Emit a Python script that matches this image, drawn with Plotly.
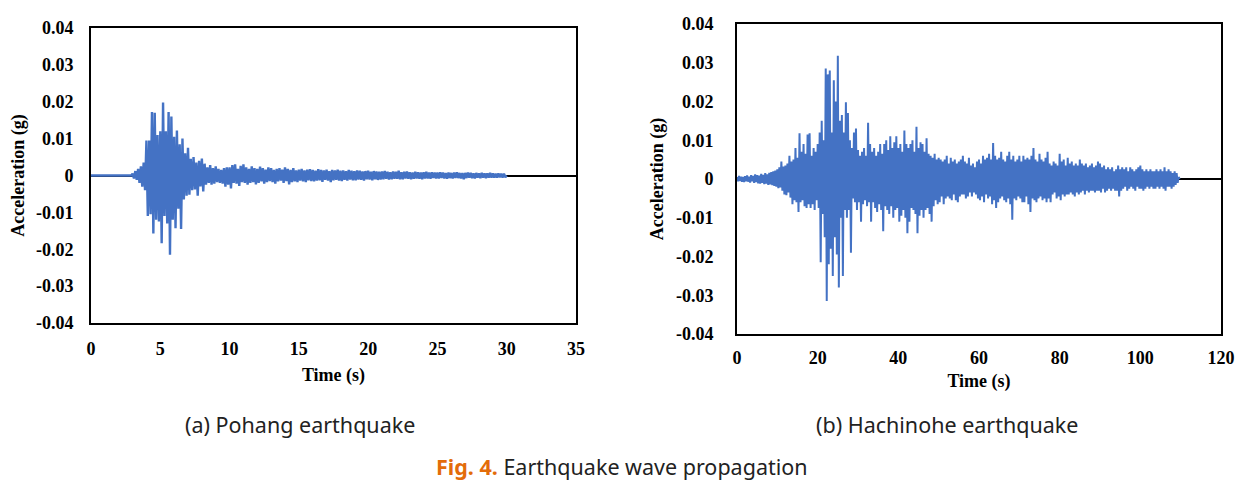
import plotly.graph_objects as go

# ---------------- data ----------------
# Pohang earthquake: acceleration in milli-g, sampled every 0.1 s from t = 0 s
pohang_dt = 0.1
pohang_mg = [
    0, 0, 0, 0, 0, 0, 0, 0, 0, 0,
    0, 0, 0, 0, 0, 0, 0, 0, 0, 0,
    0, 0, 0, 0, 0, 0, 0, 0, 0, 0,
    0.5, -0.8, 1.2, -1.2, 1.8, -2.0, 2.5, -3.0, 3.5, -4.0,
    9.5, -11.0, 9.5, -10.5, 17.2, -15.7, 17.0, -12.0, 11.0, -12.5,
    12.0, -18.4, 19.8, -11.0, 12.0, -13.0, 17.2, -21.5, 16.0, -12.0,
    10.5, -14.3, 12.2, -9.0, 8.5, -14.5, 10.0, -6.5, 6.0, -5.5,
    7.5, -5.2, 4.5, -4.0, 5.0, -3.8, 3.5, -5.5, 4.0, -3.0,
    4.6, -4.3, 3.2, -2.5, 2.2, -2.0, 2.8, -2.5, 2.0, -2.2,
    2.5, -1.8, 1.8, -2.0, 1.5, -2.2, 2.0, -3.0, 2.2, -2.5,
    2.2, -3.5, 2.8, -2.0, 3.0, -2.2, 1.8, -2.8, 2.6, -1.8,
    3.0, -2.0, 2.2, -2.5, 1.8, -2.0, 2.5, -1.8, 2.0, -2.4,
    1.8, -2.0, 2.4, -1.6, 2.0, -2.2, 1.6, -1.8, 2.2, -1.5,
    2.0, -1.8, 1.5, -2.2, 1.8, -1.6, 2.0, -1.4, 1.6, -2.0,
    2.2, -1.5, 1.8, -2.4, 1.5, -1.8, 2.0, -1.6, 1.4, -1.8,
    1.6, -1.4, 1.8, -1.6, 1.4, -1.8, 1.6, -1.3, 1.7, -1.5,
    1.5, -1.6, 1.3, -1.4, 1.7, -1.3, 1.5, -1.7, 1.4, -1.2,
    1.6, -1.4, 1.2, -1.8, 1.5, -1.3, 1.4, -1.2, 1.6, -1.4,
    1.3, -1.5, 1.4, -1.2, 1.2, -1.4, 1.5, -1.1, 1.3, -1.3,
    1.2, -1.3, 1.4, -1.1, 1.3, -1.2, 1.1, -1.4, 1.2, -1.0,
    1.3, -1.1, 1.0, -1.3, 1.2, -1.0, 1.1, -1.2, 1.0, -1.1,
    1.1, -1.0, 1.2, -0.9, 1.0, -1.1, 0.9, -1.0, 1.1, -0.9,
    1.0, -0.9, 1.3, -1.0, 0.9, -1.0, 1.0, -0.8, 1.1, -0.9,
    0.9, -1.0, 0.8, -0.9, 1.0, -0.8, 0.9, -0.9, 0.8, -1.0,
    0.9, -0.8, 1.0, -0.8, 0.8, -0.9, 0.9, -0.7, 0.8, -0.8,
    0.8, -0.8, 0.9, -0.7, 0.8, -0.8, 0.7, -0.9, 0.8, -0.7,
    0.7, -0.8, 0.8, -0.7, 0.9, -0.7, 0.7, -0.8, 0.7, -1.0,
    0.7, -0.7, 0.8, -0.6, 0.7, -0.7, 0.6, -0.8, 0.7, -0.6,
    0.6, -0.7, 0.7, -0.6, 0.6, -0.7, 0.6, -0.6, 0.7, -0.6,
    0.6, -0.6, 0.5, -0.6, 0.6, -0.5, 0.5, -0.6, 0.5, -0.5,
    0.0,
]

# Hachinohe earthquake: acceleration in milli-g, sampled every 0.25 s from t = 0 s
hachinohe_dt = 0.25
hachinohe_mg = [
    0.5, -0.6, 0.8, -0.5, 0.6, -0.7, 0.5, -0.8,
    0.7, -0.6, 0.9, -0.7, 0.6, -0.9, 1.0, -0.6,
    0.8, -1.0, 1.2, -0.8, 1.0, -1.1, 0.9, -1.2,
    1.3, -1.0, 1.1, -1.3, 1.5, -1.2, 1.2, -1.5,
    1.6, -1.4, 1.8, -1.6, 2.0, -1.8, 2.2, -2.0,
    2.5, -2.4, 3.0, -2.2, 4.5, -3.0, 3.2, -4.0,
    3.5, -4.2, 4.0, -3.5, 6.0, -4.8, 4.5, -6.5,
    5.0, -5.5, 8.0, -6.0, 5.5, -8.5, 11.8, -6.0,
    7.0, -5.5, 9.0, -7.0, 6.5, -7.5, 11.5, -6.5,
    11.8, -7.5, 6.0, -6.5, 8.0, -8.0, 7.0, -5.5,
    9.0, -7.5, 12.0, -21.5, 15.0, -9.0, 10.0, -15.0,
    28.5, -31.5, 27.0, -22.0, 28.0, -18.0, 12.0, -25.0,
    25.5, -15.0, 20.0, -19.5, 31.8, -28.0, 15.0, -10.0,
    16.5, -25.0, 12.0, -8.0, 19.8, -10.0, 17.0, -8.0,
    10.0, -19.0, 8.0, -5.0, 12.0, -6.0, 13.0, -8.0,
    7.5, -6.0, 6.0, -11.0, 7.0, -6.5, 8.0, -5.5,
    6.0, -7.0, 14.5, -6.0, 9.0, -11.0, 7.0, -6.0,
    8.0, -7.5, 6.0, -8.5, 7.0, -6.5, 9.0, -8.0,
    6.5, -13.5, 9.0, -7.0, 10.0, -8.0, 7.5, -9.0,
    11.0, -7.0, 8.0, -10.0, 9.5, -8.0, 11.0, -7.5,
    8.0, -11.0, 9.0, -9.5, 7.0, -8.0, 12.5, -10.0,
    9.0, -14.0, 8.0, -11.0, 9.0, -7.5, 10.0, -8.0,
    7.0, -9.0, 13.5, -14.0, 8.0, -9.5, 9.5, -8.0,
    9.0, -10.0, 7.0, -8.0, 10.5, -7.5, 6.5, -9.0,
    6.0, -11.0, 5.5, -7.0, 6.5, -5.5, 5.0, -6.5,
    5.5, -6.0, 5.0, -4.5, 4.5, -6.5, 5.0, -5.0,
    6.0, -4.5, 4.0, -5.0, 5.5, -5.5, 4.5, -4.0,
    5.0, -5.5, 4.0, -6.0, 4.5, -4.5, 5.0, -4.0,
    6.0, -4.0, 4.5, -5.0, 4.0, -4.5, 5.5, -3.5,
    3.5, -4.5, 4.0, -3.5, 3.0, -4.0, 4.5, -5.0,
    5.0, -5.5, 4.0, -4.5, 6.0, -6.0, 5.0, -4.0,
    5.5, -5.0, 6.5, -4.5, 5.0, -6.5, 9.3, -5.5,
    6.0, -7.5, 5.0, -6.0, 5.5, -5.0, 7.0, -4.5,
    5.0, -5.5, 4.5, -6.0, 6.0, -5.0, 7.0, -6.5,
    5.0, -10.5, 6.0, -5.0, 4.5, -5.5, 5.0, -4.5,
    6.0, -5.0, 4.5, -6.0, 6.0, -6.0, 5.0, -4.5,
    5.5, -6.5, 5.0, -8.5, 6.0, -5.0, 8.0, -5.5,
    5.0, -6.0, 4.5, -5.0, 6.5, -4.5, 5.0, -5.5,
    4.5, -5.0, 5.5, -6.0, 7.0, -5.0, 4.0, -6.0,
    3.5, -4.0, 4.5, -3.5, 4.0, -5.0, 3.5, -4.5,
    6.5, -5.5, 4.5, -4.0, 5.0, -4.5, 3.5, -4.0,
    5.5, -4.0, 4.0, -3.5, 4.5, -4.0, 3.5, -4.5,
    4.0, -3.5, 3.5, -4.0, 5.0, -3.5, 4.0, -3.0,
    3.5, -4.0, 4.0, -3.0, 3.0, -3.5, 3.5, -3.0,
    4.0, -3.0, 3.0, -3.5, 3.5, -3.0, 4.5, -3.0,
    4.0, -3.5, 3.0, -2.5, 3.5, -3.5, 2.5, -3.0,
    3.0, -2.5, 2.5, -3.0, 3.0, -2.5, 2.0, -3.0,
    2.5, -3.0, 3.5, -4.5, 2.5, -3.0, 3.0, -2.5,
    2.5, -2.0, 3.0, -3.0, 2.0, -2.5, 3.0, -2.0,
    2.5, -2.5, 2.0, -3.0, 2.5, -2.0, 3.0, -2.5,
    3.5, -2.5, 2.5, -3.0, 2.0, -2.5, 2.5, -2.0,
    2.0, -2.5, 2.5, -2.0, 2.0, -2.5, 2.0, -2.5,
    2.5, -2.0, 2.0, -2.5, 2.5, -2.0, 2.0, -2.5,
    3.0, -3.0, 2.0, -2.0, 2.5, -2.0, 2.0, -2.5,
    1.5, -2.0, 2.0, -1.5, 1.5, -1.0, 0.5, 0.0,
]

y_tick_vals = [-0.04, -0.03, -0.02, -0.01, 0, 0.01, 0.02, 0.03, 0.04]
y_tick_text = ["-0.04", "-0.03", "-0.02", "-0.01", "0", "0.01", "0.02", "0.03", "0.04"]
pohang_x_ticks = [0, 5, 10, 15, 20, 25, 30, 35]
hachinohe_x_ticks = [0, 20, 40, 60, 80, 100, 120]

x_title = "Time (s)"
y_title = "Acceleration (g)"
caption_a = "(a) Pohang earthquake"
caption_b = "(b) Hachinohe earthquake"
fig_label = "Fig. 4."
fig_title = "Earthquake wave propagation"

# ---------------- derived series ----------------
pohang_t = [i * pohang_dt for i in range(len(pohang_mg))]
pohang_g = [v / 1000 for v in pohang_mg]
hachinohe_t = [i * hachinohe_dt for i in range(len(hachinohe_mg))]
hachinohe_g = [v / 1000 for v in hachinohe_mg]

# page is 1246x492; the HTML body has an 8 px margin, so the figure is
# sized to fit inside it and layout positions are given in page pixels.
PAGE_MARGIN = 8
W, H = 1246 - PAGE_MARGIN, 492 - 2 * PAGE_MARGIN
LINE = "#4472C4"
SERIF = "Liberation Serif, Times New Roman, serif"
SANS = "Noto Sans, Open Sans, sans-serif"


def fx(page_x):
    return (page_x - PAGE_MARGIN) / W


def fy(page_y):
    return 1 - (page_y - PAGE_MARGIN) / H


fig = go.Figure()
fig.add_trace(go.Scatter(x=pohang_t, y=pohang_g, mode="lines",
                         line=dict(color=LINE, width=2.4), xaxis="x", yaxis="y",
                         showlegend=False))
fig.add_trace(go.Scatter(x=hachinohe_t, y=hachinohe_g, mode="lines",
                         line=dict(color=LINE, width=2.0), xaxis="x2", yaxis="y2",
                         showlegend=False))

tick_font = dict(family=SERIF, size=18, color="black", weight="bold")
title_font = dict(family=SERIF, size=18, color="black", weight="bold")

common_axis = dict(showgrid=False, showline=True, linecolor="black", linewidth=2,
                   mirror=True, ticks="outside", tickcolor="rgba(0,0,0,0)",
                   tickfont=tick_font, automargin=False)

fig.update_layout(
    width=W, height=H,
    margin=dict(l=0, r=0, t=0, b=0),
    paper_bgcolor="white", plot_bgcolor="white",
    xaxis=dict(domain=[fx(91), fx(576)], range=[0, 35], tickvals=pohang_x_ticks,
               ticklen=8, zeroline=False,
               title=dict(text=x_title, font=title_font, standoff=11),
               anchor="y", **common_axis),
    yaxis=dict(domain=[fy(323), fy(28)], range=[-0.04, 0.04], tickvals=y_tick_vals,
               ticktext=y_tick_text, ticklen=12, zeroline=True,
               zerolinecolor="black", zerolinewidth=2,
               title=dict(text=y_title, font=title_font, standoff=8),
               anchor="x", **common_axis),
    xaxis2=dict(domain=[fx(737), fx(1221)], range=[0, 120], tickvals=hachinohe_x_ticks,
                ticklen=6, zeroline=False,
                title=dict(text=x_title, font=title_font, standoff=8),
                anchor="y2", **common_axis),
    yaxis2=dict(domain=[fy(334), fy(24)], range=[-0.04, 0.04], tickvals=y_tick_vals,
                ticktext=y_tick_text, ticklen=18, zeroline=True,
                zerolinecolor="black", zerolinewidth=2,
                title=dict(text=y_title, font=title_font, standoff=8),
                anchor="x2", **common_axis),
)

fig.add_annotation(x=fx(300), y=fy(424), xref="paper", yref="paper",
                   text=caption_a, showarrow=False, xanchor="center", yanchor="middle",
                   font=dict(family=SANS, size=21.5, color="#222222"))
fig.add_annotation(x=fx(947), y=fy(424), xref="paper", yref="paper",
                   text=caption_b, showarrow=False, xanchor="center", yanchor="middle",
                   font=dict(family=SANS, size=21.5, color="#222222"))
fig.add_annotation(x=fx(622), y=fy(466), xref="paper", yref="paper",
                   text=f"<b><span style='color:#E36C0A'>{fig_label}</span></b> {fig_title}",
                   showarrow=False, xanchor="center", yanchor="middle",
                   font=dict(family=SANS, size=21.5, color="#222222"))

fig.write_html("out.html")
